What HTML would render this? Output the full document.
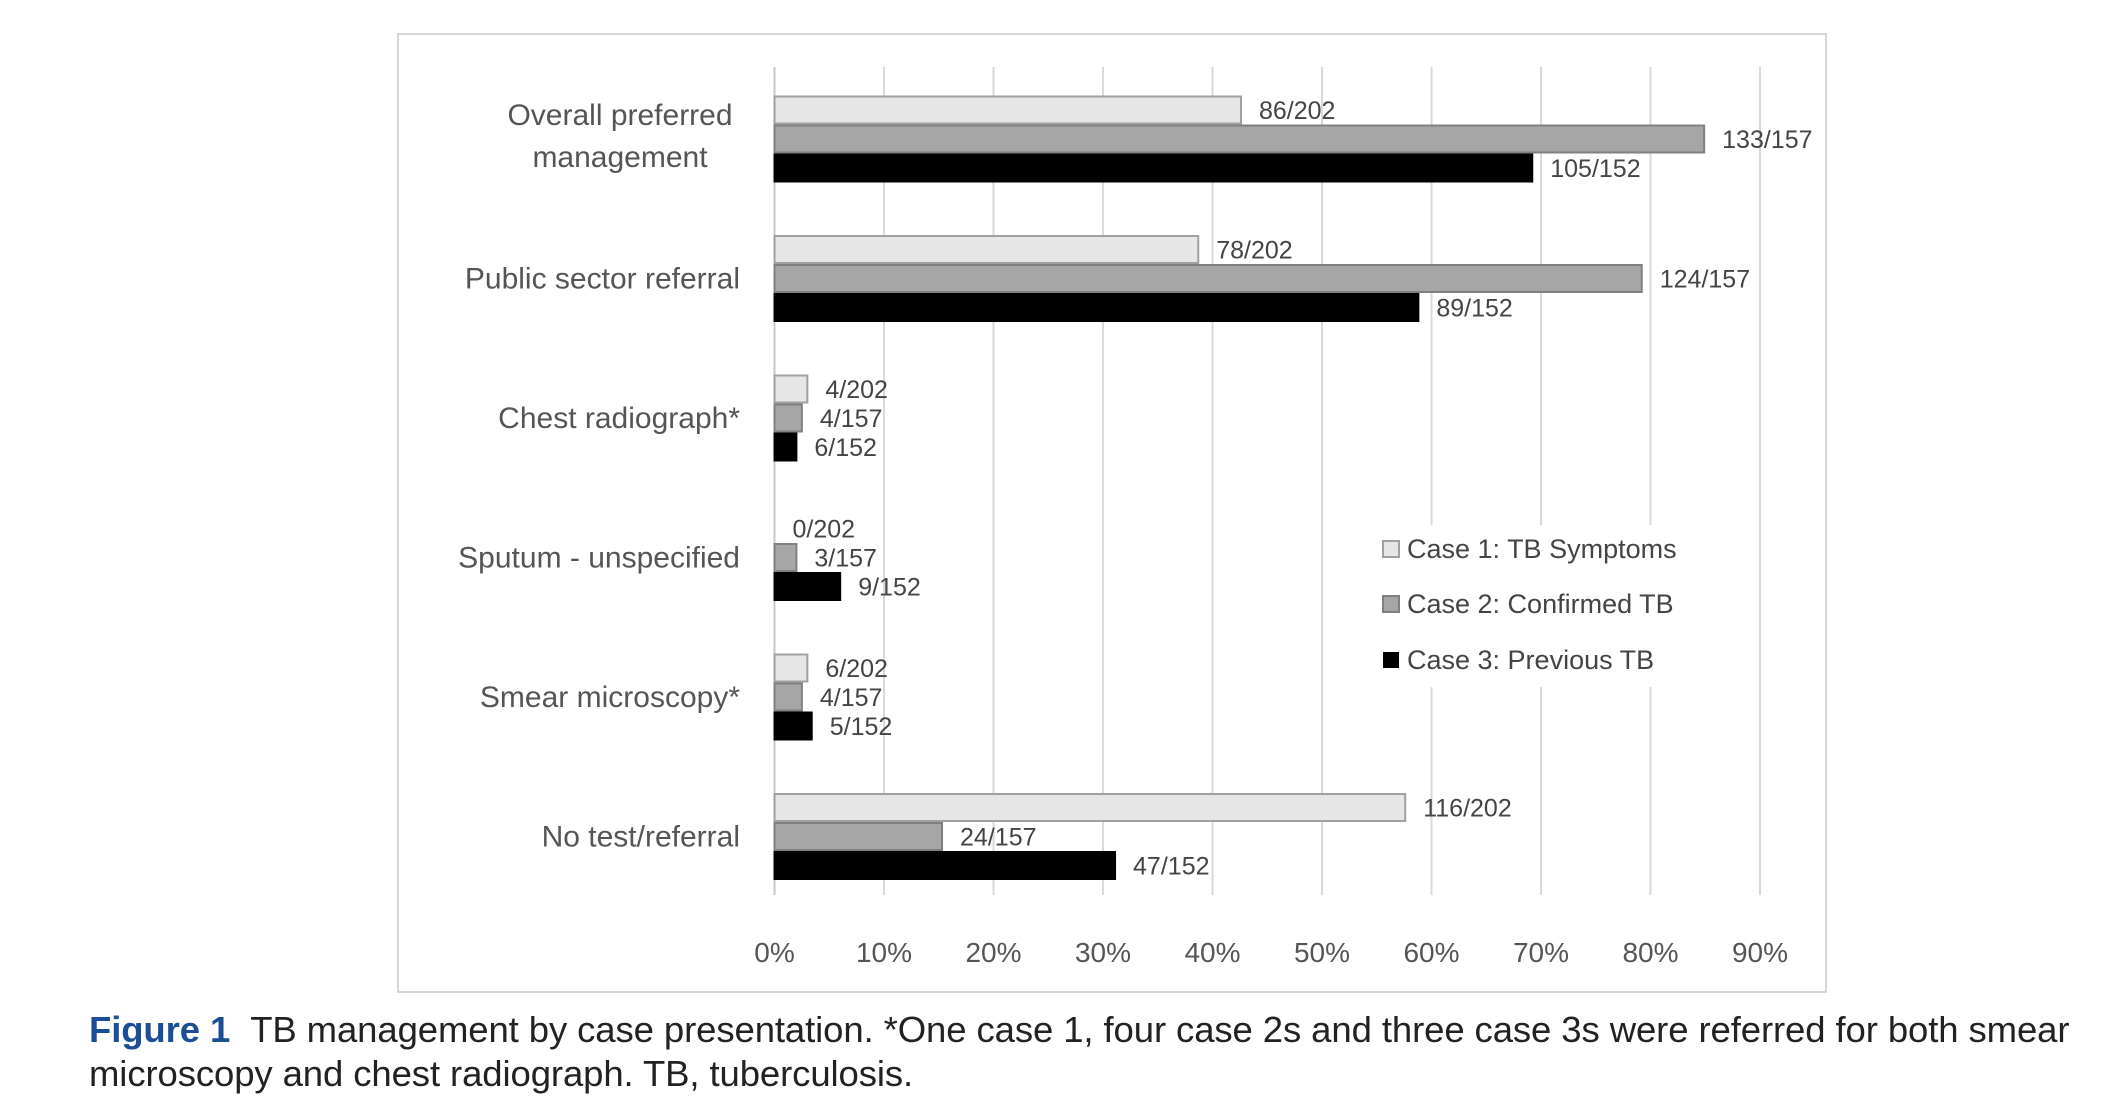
<!DOCTYPE html>
<html><head><meta charset="utf-8"><style>
body{margin:0;background:#fff;width:2111px;height:1111px;overflow:hidden;font-family:"Liberation Sans",sans-serif;}
#cap{position:absolute;left:89px;top:1008px;font-size:36.5px;line-height:44px;color:#222;width:2018px;letter-spacing:-0.1px}
#cap b{color:#1a4f95;margin-right:20px}
</style></head><body>
<svg width="2111" height="1000" style="position:absolute;left:0;top:0">
<rect x="398" y="34" width="1428" height="958" fill="#fff" stroke="#d6d6d6" stroke-width="2"/>
<g id="grid"></g><g id="bars"></g><g id="labels"></g>
<g>
<rect x="1366" y="525" width="330" height="162" fill="#fff"/>
<rect x="1383" y="541" width="16" height="16" fill="#e6e6e6" stroke="#a0a0a0" stroke-width="2"/>
<text x="1407" y="558" font-size="27" fill="#444">Case 1: TB Symptoms</text>
<rect x="1383" y="596" width="16" height="16" fill="#a6a6a6" stroke="#808080" stroke-width="2"/>
<text x="1407" y="613" font-size="27" fill="#444">Case 2: Confirmed TB</text>
<rect x="1383" y="652" width="16" height="16" fill="#000"/>
<text x="1407" y="669" font-size="27" fill="#444">Case 3: Previous TB</text>
</g>
</svg>
<div id="cap"><b>Figure 1</b>TB management by case presentation. *One case 1, four case 2s and three case 3s were referred for both smear microscopy and chest radiograph. TB, tuberculosis.</div>
<script>
const categories=[["Overall preferred","management"],["Public sector referral"],["Chest radiograph*"],["Sputum - unspecified"],["Smear microscopy*"],["No test/referral"]];
const case1=[42.6,38.7,3.0,0,3.0,57.6];
const case2=[84.9,79.2,2.5,2.0,2.5,15.3];
const case3=[69.2,58.8,2.0,6.0,3.4,31.1];
const labels1=["86/202","78/202","4/202","0/202","6/202","116/202"];
const labels2=["133/157","124/157","4/157","3/157","4/157","24/157"];
const labels3=["105/152","89/152","6/152","9/152","5/152","47/152"];
const ticks=[0,10,20,30,40,50,60,70,80,90];
const NS="http://www.w3.org/2000/svg";
const x=v=>774.5+v*10.95;
const yc=i=>139+i*139.5;
const BH=29;
function mk(t,a,p){const e=document.createElementNS(NS,t);for(const k in a)e.setAttribute(k,a[k]);p.appendChild(e);return e;}
const G=document.getElementById('grid'),B=document.getElementById('bars'),L=document.getElementById('labels');
ticks.forEach(t=>{
 const l=mk('line',{x1:x(t),x2:x(t),y1:67,y2:895,stroke:t==0?'#c8c8c8':'#d9d9d9','stroke-width':2},G);
 
 
 const tx=mk('text',{x:x(t),y:962,'font-size':28,fill:'#555','text-anchor':'middle'},G);
 tx.textContent=t+'%';
 
 
});
const series=[[case1,labels1,'#e6e6e6','#a0a0a0'],[case2,labels2,'#a6a6a6','#808080'],[case3,labels3,'#000','#000']];
categories.forEach((c,i)=>{
 const top=yc(i)-1.5*BH;
 const ct=mk('text',{x:740,y:yc(i)+(c.length>1?-14:10),'font-size':30,fill:'#555','text-anchor':'end'},L);
 
 
 c.forEach((s,k)=>{const ts=mk('tspan',{x:740,dy:k?42:0},ct);ts.textContent=s;});
 if(c.length>1){ct.setAttribute('text-anchor','middle');ct.childNodes.forEach(t=>t.setAttribute('x',620));}
 series.forEach((s,j)=>{
  const v=s[0][i],y=top+j*BH;
  if(v>0){const r=mk('rect',{x:x(0),y:y+1,width:x(v)-x(0),height:BH-2,fill:s[2],stroke:s[3],'stroke-width':2},B);
  
  }
  const t=mk('text',{x:x(v)+18,y:y+BH/2+9,'font-size':25,fill:'#444'},L);
  t.textContent=s[1][i];
  
  
 });
});
</script>
</body></html>
